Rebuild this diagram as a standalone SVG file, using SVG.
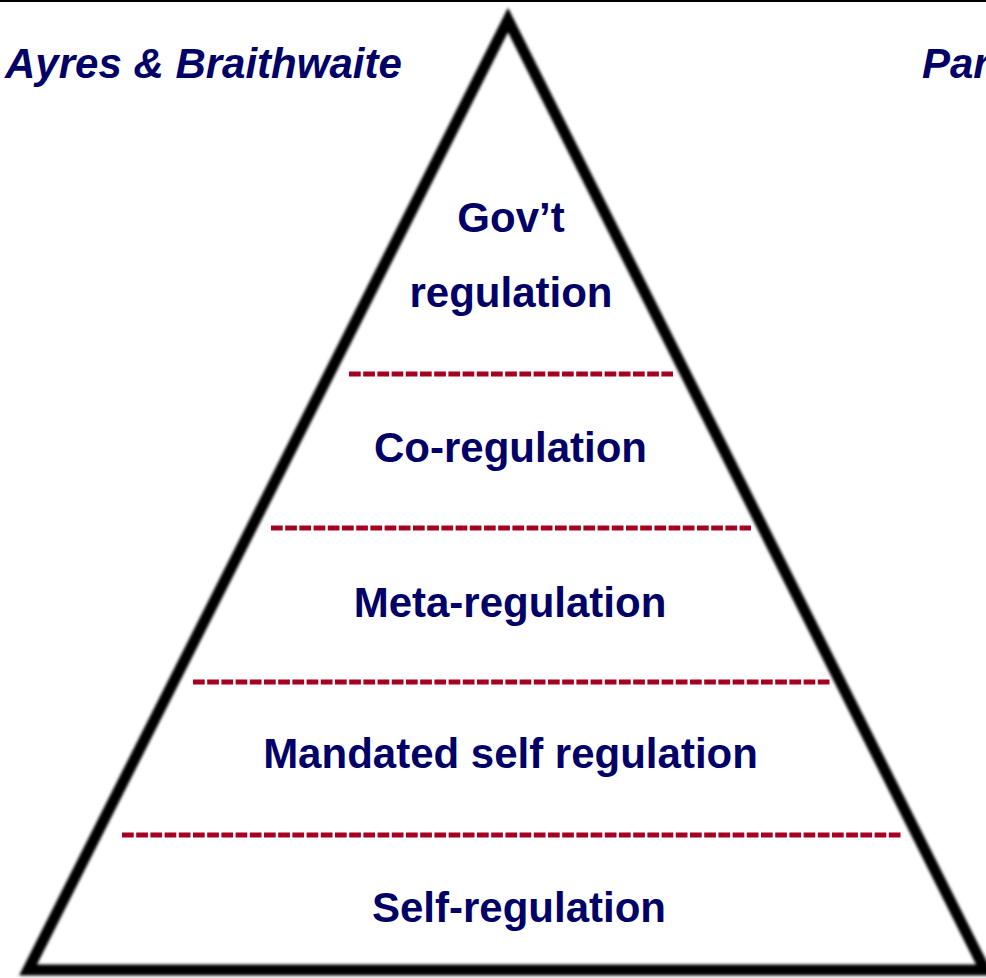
<svg xmlns="http://www.w3.org/2000/svg" width="986" height="978" viewBox="0 0 986 978">
  <defs>
    <filter id="soft" x="-5%" y="-5%" width="110%" height="110%">
      <feGaussianBlur stdDeviation="1.5"/>
    </filter>
  </defs>
  <style>
    .lbl { font-family: "Liberation Sans", Arial, sans-serif; font-weight: bold; font-size: 42px; fill: #000066; text-anchor: middle; }
    .hdr { font-family: "Liberation Sans", Arial, sans-serif; font-weight: bold; font-style: italic; font-size: 42px; fill: #000066; }
    .sep { stroke: #A50021; stroke-width: 5; stroke-dasharray: 11.7 2.5; fill: none; }
  </style>
  <rect x="0" y="0" width="986" height="978" fill="#ffffff"/>
  <rect id="top-rule" x="0" y="0" width="986" height="2" fill="#000000"/>

  <g id="pyramid">
    <polygon points="508,20 28,970 985,970" fill="none" stroke="#000000" stroke-width="11" stroke-linejoin="miter" stroke-miterlimit="10" filter="url(#soft)"/>
  </g>

  <g id="header-left"><text class="hdr" x="5" y="78">Ayres &amp; Braithwaite</text></g>
  <g id="header-right"><text class="hdr" x="922" y="78">Par</text></g>

  <g id="connectors">
    <line class="sep" x1="349" y1="374" x2="673" y2="374"/>
    <line class="sep" x1="271" y1="528" x2="751" y2="528"/>
    <line class="sep" x1="193" y1="682" x2="829.5" y2="682"/>
    <line class="sep" x1="122" y1="835" x2="900.5" y2="835"/>
  </g>

  <g id="node-govt">
    <text class="lbl" x="511" y="232">Gov’t</text>
    <text class="lbl" x="511" y="307">regulation</text>
  </g>
  <g id="node-co"><text class="lbl" x="510.5" y="462">Co-regulation</text></g>
  <g id="node-meta"><text class="lbl" x="510" y="617">Meta-regulation</text></g>
  <g id="node-mandated"><text class="lbl" x="510.5" y="768">Mandated self regulation</text></g>
  <g id="node-self"><text class="lbl" x="519" y="922">Self-regulation</text></g>
</svg>
